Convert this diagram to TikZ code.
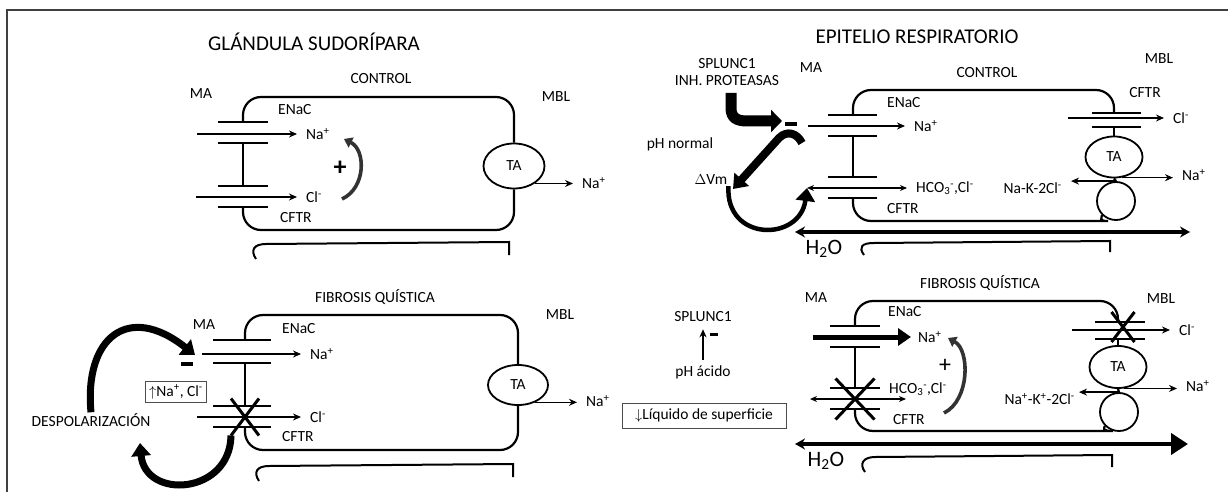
\documentclass[tikz,border=0pt]{standalone}
\usepackage{fontspec}
\setmainfont{Carlito}
\usepackage{tikz}
\usetikzlibrary{arrows.meta,shapes.geometric,shapes.misc}
\tikzset{
  celllabel/.style={font=\fontsize{15.5}{17}\selectfont,inner sep=1pt},
  ionlabel/.style={celllabel,anchor=west,inner xsep=9pt},
  ionlabelleft/.style={celllabel,anchor=east,inner xsep=9pt},
  paneltitle/.style={font=\fontsize{21}{24}\selectfont,inner sep=1pt},
  waterlabel/.style={font=\fontsize{22}{24}\selectfont,inner sep=1pt},
  pluslabel/.style={font=\fontsize{26}{26}\selectfont\bfseries,inner sep=0pt},
  membrane/.style={line width=2.2pt,rounded corners=18pt},
  channelplate/.style={line width=1.8pt},
  transporter/.style={draw,ellipse,line width=1.8pt,inner sep=0pt,
    font=\fontsize{15.5}{17}\selectfont},
  pumpcircle/.style={draw,circle,line width=1.8pt,minimum size=38pt,inner sep=0pt},
  ionarrow/.style={-{Stealth[length=8pt,width=7pt]},line width=1.4pt},
  exchangearrow/.style={{Stealth[length=7pt,width=6pt]}-{Stealth[length=7pt,width=6pt]},
    line width=1.4pt},
  strongarrow/.style={-{Triangle[length=13pt,width=17pt]},line width=5pt},
  waterarrow/.style={{Stealth[length=10pt,width=11pt]}-{Stealth[length=10pt,width=11pt]},
    line width=3.2pt},
  feedbackarrow/.style={-{Triangle[length=13pt,width=19pt]},line width=7pt},
  inhibarrow/.style={-{Triangle[length=11pt,width=22pt]},line width=11pt},
  plusarrow/.style={-{Triangle[length=8pt,width=11pt]},line width=3.6pt,black!80},
  blockcross/.style={draw,cross out,line width=3pt,inner sep=0pt},
  minusbar/.style={fill=black,minimum width=12pt,minimum height=4pt,inner sep=0pt},
  noteframe/.style={draw=black!70,line width=1pt,inner sep=4pt,
    font=\fontsize{15.5}{17}\selectfont},
  neighbour/.style={line width=2pt}
}

\begin{document}
\begin{tikzpicture}[x=1pt,y=-1pt]
  \useasboundingbox (0,0) rectangle (1228,492);
  \draw[line width=1.6pt,black!75] (7,492) -- (7,10) -- (1228,10);

  \node[paneltitle] (glandula) at (314,42) {GLÁNDULA SUDORÍPARA};
  \node[paneltitle] (epitelio) at (917,37) {EPITELIO RESPIRATORIO};

  % glandula sudoripara, control
  \node[celllabel] (sc-title) at (381,79) {CONTROL};
  \node[celllabel] (sc-ma) at (201,94) {MA};
  \node[celllabel] (sc-mbl) at (556,97) {MBL};
  \node[celllabel,anchor=west] (sc-enac) at (277,110) {ENaC};
  \node[celllabel,anchor=west] (sc-cftr) at (279,218) {CFTR};
  \node[transporter,minimum width=61pt,minimum height=45pt] (sc-ta) at (514,166) {TA};
  \node[ionlabel] (sc-na) at (297,134) {Na\textsuperscript{+}};
  \node[ionlabel] (sc-cl) at (297,197) {Cl\textsuperscript{-}};
  \node[ionlabel] (sc-naout) at (573,183) {Na\textsuperscript{+}};
  \node[pluslabel] (sc-plus) at (340,168) {+};
  \coordinate (sc-nain) at (197,134);
  \coordinate (sc-clin) at (196,197);
  \coordinate (sc-pfrom) at (342,199);
  \coordinate (sc-pto) at (344,139);
  \foreach \y in {122,143,186,207}
    \draw[channelplate] (218,\y) -- (268,\y);
  \draw[membrane] (243,122) -- (243,97) -- (514,97) -- (sc-ta.north);
  \draw[membrane] (243,143) -- (243,186);
  \draw[membrane] (sc-ta.south) -- (514,230) -- (243,230) -- (243,207);
  \draw[ionarrow] (sc-nain) -- (sc-nain -| sc-na.west);
  \draw[ionarrow] (sc-clin) -- (sc-clin -| sc-cl.west);
  \draw[ionarrow] (sc-ta.-40) -- (sc-ta.-40 -| sc-naout.west);
  \draw[plusarrow] (sc-pfrom) .. controls (366,188) and (366,150) .. (sc-pto);
  \draw[neighbour] (256,259) .. controls (250,250) and (254,244) .. (266,244)
    -- (509,242) -- (509,255);

  % glandula sudoripara, fibrosis quistica
  \node[celllabel] (sf-title) at (375,297) {FIBROSIS QUÍSTICA};
  \node[celllabel] (sf-ma) at (204,325) {MA};
  \node[celllabel] (sf-mbl) at (560,315) {MBL};
  \node[celllabel,anchor=west] (sf-enac) at (281,329) {ENaC};
  \node[celllabel,anchor=west] (sf-cftr) at (281,437) {CFTR};
  \node[transporter,minimum width=60pt,minimum height=40pt] (sf-ta) at (518,385) {TA};
  \node[ionlabel] (sf-na) at (301,354) {Na\textsuperscript{+}};
  \node[ionlabel] (sf-cl) at (301,417) {Cl\textsuperscript{-}};
  \node[ionlabel] (sf-naout) at (577,401) {Na\textsuperscript{+}};
  \node[blockcross,minimum width=25pt,minimum height=34pt] (sf-block) at (245,417) {};
  \node[celllabel] (sf-depol) at (91,420) {DESPOLARIZACIÓN};
  \node[noteframe] (sf-note) at (176,392) {$\uparrow$Na\textsuperscript{+}, Cl\textsuperscript{-}};
  \node[minusbar] (sf-minus) at (187,364) {};
  \coordinate (sf-nain) at (202,354);
  \coordinate (sf-clin) at (197,417);
  \coordinate (sf-dhead) at (195,355);
  \coordinate (sf-uhead) at (140,443);
  \foreach \y in {340,363,406,427}
    \draw[channelplate] (213,\y) -- (271,\y);
  \draw[membrane] (245,340) -- (245,315) -- (518,315) -- (sf-ta.north);
  \draw[membrane] (245,363) -- (245,406);
  \draw[membrane] (sf-ta.south) -- (518,450) -- (245,450) -- (245,427);
  \draw[ionarrow] (sf-nain) -- (sf-nain -| sf-na.west);
  \draw[ionarrow] (sf-clin) -- (sf-clin -| sf-cl.west);
  \draw[ionarrow] (sf-ta.-45) -- (sf-ta.-45 -| sf-naout.west);
  \draw[feedbackarrow] (sf-depol.north) .. controls (84,338) and (128,302) .. (sf-dhead);
  \draw[feedbackarrow] (sf-block.south west) .. controls (230,495) and (145,500) .. (sf-uhead);
  \draw[neighbour] (259,481) .. controls (253,472) and (257,466) .. (269,466)
    -- (513,464) -- (513,477);

  % centro
  \node[celllabel] (mid-splunc) at (703,317) {SPLUNC1};
  \node[celllabel] (mid-ph) at (703,372) {pH ácido};
  \node[minusbar,minimum width=8pt,minimum height=3pt] (mid-minus) at (714,334) {};
  \node[noteframe,minimum width=164pt,minimum height=25pt] (mid-note) at (704,416)
    {$\downarrow$Líquido de superficie};
  \draw[ionarrow,shorten <=4pt,shorten >=6pt] (mid-ph.north) -- (mid-splunc.south);

  % epitelio respiratorio, control
  \node[celllabel,align=center] (rc-splunc) at (727,72) {SPLUNC1\\INH. PROTEASAS};
  \node[celllabel] (rc-title) at (987,73) {CONTROL};
  \node[celllabel] (rc-ma) at (811,68) {MA};
  \node[celllabel] (rc-mbl) at (1159,59) {MBL};
  \node[celllabel] (rc-cftrb) at (1145,93) {CFTR};
  \node[celllabel,anchor=west] (rc-enac) at (886,103) {ENaC};
  \node[celllabel,anchor=west] (rc-cftr) at (886,209) {CFTR};
  \node[celllabel] (rc-ph) at (680,144) {pH normal};
  \node[celllabel] (rc-vm) at (711,180) {$\Delta$Vm};
  \node[transporter,minimum width=57pt,minimum height=41pt] (rc-ta) at (1114,157) {TA};
  \node[pumpcircle] (rc-pump) at (1116,201) {};
  \node[ionlabel] (rc-na) at (905,126) {Na\textsuperscript{+}};
  \node[ionlabel] (rc-hco) at (907,188) {HCO\textsubscript{3}\textsuperscript{-},Cl\textsuperscript{-}};
  \node[ionlabel] (rc-cl) at (1164,118) {Cl\textsuperscript{-}};
  \node[ionlabel] (rc-naout) at (1173,175) {Na\textsuperscript{+}};
  \node[ionlabelleft] (rc-nkcc) at (1071,188) {Na-K-2Cl\textsuperscript{-}};
  \node[minusbar] (rc-minus) at (791,124) {};
  \coordinate (rc-nain) at (808,126);
  \coordinate (rc-hcoin) at (807,188);
  \coordinate (rc-clin) at (1068,118);
  \coordinate (rc-inh) at (731,93);
  \coordinate (rc-inhtip) at (782,121);
  \coordinate (rc-stail) at (802,143);
  \coordinate (rc-vmtip) at (733,189);
  \coordinate (rc-wl) at (795,232);
  \coordinate (rc-wr) at (1190,232);
  \foreach \y in {115,136,177,198}
    \draw[channelplate] (828,\y) -- (877,\y);
  \foreach \y in {113,127}
    \draw[channelplate] (1092,\y) -- (1141,\y);
  \draw[membrane] (853,115) -- (853,90) -- (1114,90) -- (1114,113);
  \draw[membrane] (853,136) -- (853,177);
  \draw[membrane] (1114,127) -- (rc-ta.north);
  \draw[membrane] (rc-ta.south) -- (rc-pump.north);
  \draw[membrane] (853,198) |- (1090,221) .. controls (1098,221) and (1102,218) .. (rc-pump.225);
  \draw[ionarrow] (rc-nain) -- (rc-nain -| rc-na.west);
  \draw[exchangearrow] (rc-hcoin) -- (rc-hcoin -| rc-hco.west);
  \draw[ionarrow] (rc-clin) -- (rc-clin -| rc-cl.west);
  \draw[ionarrow] (rc-ta.-70) -- (rc-ta.-70 -| rc-naout.west);
  \draw[ionarrow] (rc-pump.north) -- (rc-pump.north -| rc-nkcc.east);
  \draw[inhibarrow] (rc-inh) -- (731,108) .. controls (731,118) and (737,121) .. (747,121)
    -- (rc-inhtip);
  \draw[feedbackarrow,line width=8pt] (rc-stail) .. controls (797,133) and (787,130) .. (779,138)
    -- (rc-vmtip);
  \draw[feedbackarrow,line width=4.5pt] (rc-vm.south east) .. controls (725,242) and (800,242)
    .. (rc-hcoin);
  \draw[waterarrow] (rc-wl) -- (rc-wr);
  \node[waterlabel] (rc-water) at (824,249) {H\textsubscript{2}O};
  \draw[neighbour] (864,255) .. controls (858,247) and (862,243) .. (874,243)
    -- (1110,241) -- (1110,252);

  % epitelio respiratorio, fibrosis quistica
  \node[celllabel] (rf-title) at (980,283) {FIBROSIS QUÍSTICA};
  \node[celllabel] (rf-ma) at (816,298) {MA};
  \node[celllabel] (rf-mbl) at (1161,299) {MBL};
  \node[celllabel,anchor=west] (rf-enac) at (887,312) {ENaC};
  \node[celllabel,anchor=west] (rf-cftr) at (892,420) {CFTR};
  \node[celllabel,anchor=west] (rf-hco) at (888,389) {HCO\textsubscript{3}\textsuperscript{-},Cl\textsuperscript{-}};
  \node[transporter,minimum width=57pt,minimum height=42pt] (rf-ta) at (1118,367) {TA};
  \node[pumpcircle] (rf-pump) at (1119,412) {};
  \node[ionlabel,inner xsep=7pt] (rf-na) at (911,337) {Na\textsuperscript{+}};
  \node[ionlabel] (rf-cl) at (1170,330) {Cl\textsuperscript{-}};
  \node[ionlabel] (rf-naout) at (1177,386) {Na\textsuperscript{+}};
  \node[ionlabelleft,inner xsep=4pt] (rf-nkcc) at (1079,399) {Na\textsuperscript{+}-K\textsuperscript{+}-2Cl\textsuperscript{-}};
  \node[pluslabel,font=\fontsize{24}{24}\selectfont] (rf-plus) at (945,366) {+};
  \node[blockcross,minimum width=36pt,minimum height=38pt] (rf-block) at (855,399) {};
  \node[blockcross,minimum width=20pt,minimum height=27pt] (rf-cfblock) at (1123,327) {};
  \coordinate (rf-nain) at (813,337);
  \coordinate (rf-hcoin) at (810,399);
  \coordinate (rf-hcoout) at (906,399);
  \coordinate (rf-clin) at (1072,330);
  \coordinate (rf-pfrom) at (944,413);
  \coordinate (rf-pto) at (948,338);
  \coordinate (rf-wl) at (795,444);
  \coordinate (rf-wr) at (1188,444);
  \foreach \y in {326,347,388,409}
    \draw[channelplate] (830,\y) -- (880,\y);
  \foreach \y in {322,339}
    \draw[channelplate] (1095,\y) -- (1145,\y);
  \draw[membrane] (855,326) -- (855,301) -- (1118,301) -- (1118,322);
  \draw[membrane] (855,347) -- (855,388);
  \draw[membrane] (1118,339) -- (rf-ta.north);
  \draw[membrane] (rf-ta.south) -- (rf-pump.north);
  \draw[membrane] (855,409) |- (1095,431) .. controls (1101,431) and (1104,428) .. (rf-pump.225);
  \draw[strongarrow] (rf-nain) -- (rf-nain -| rf-na.west);
  \draw[exchangearrow] (rf-hcoin) -- (rf-hcoout);
  \draw[ionarrow] (rf-clin) -- (rf-clin -| rf-cl.west);
  \draw[ionarrow] (rf-ta.-75) -- (rf-ta.-75 -| rf-naout.west);
  \draw[ionarrow] (rf-pump.north) -- (rf-pump.north -| rf-nkcc.east);
  \draw[plusarrow] (rf-pfrom) .. controls (970,400) and (970,350) .. (rf-pto);
  \draw[{Stealth[length=10pt,width=11pt]}-{Triangle[length=17pt,width=21pt]},line width=4pt]
    (rf-wl) -- (rf-wr);
  \node[waterlabel] (rf-water) at (826,461) {H\textsubscript{2}O};
  \draw[neighbour] (865,472) .. controls (859,464) and (863,457) .. (875,457)
    -- (1112,455) -- (1112,467);
\end{tikzpicture}
\end{document}
